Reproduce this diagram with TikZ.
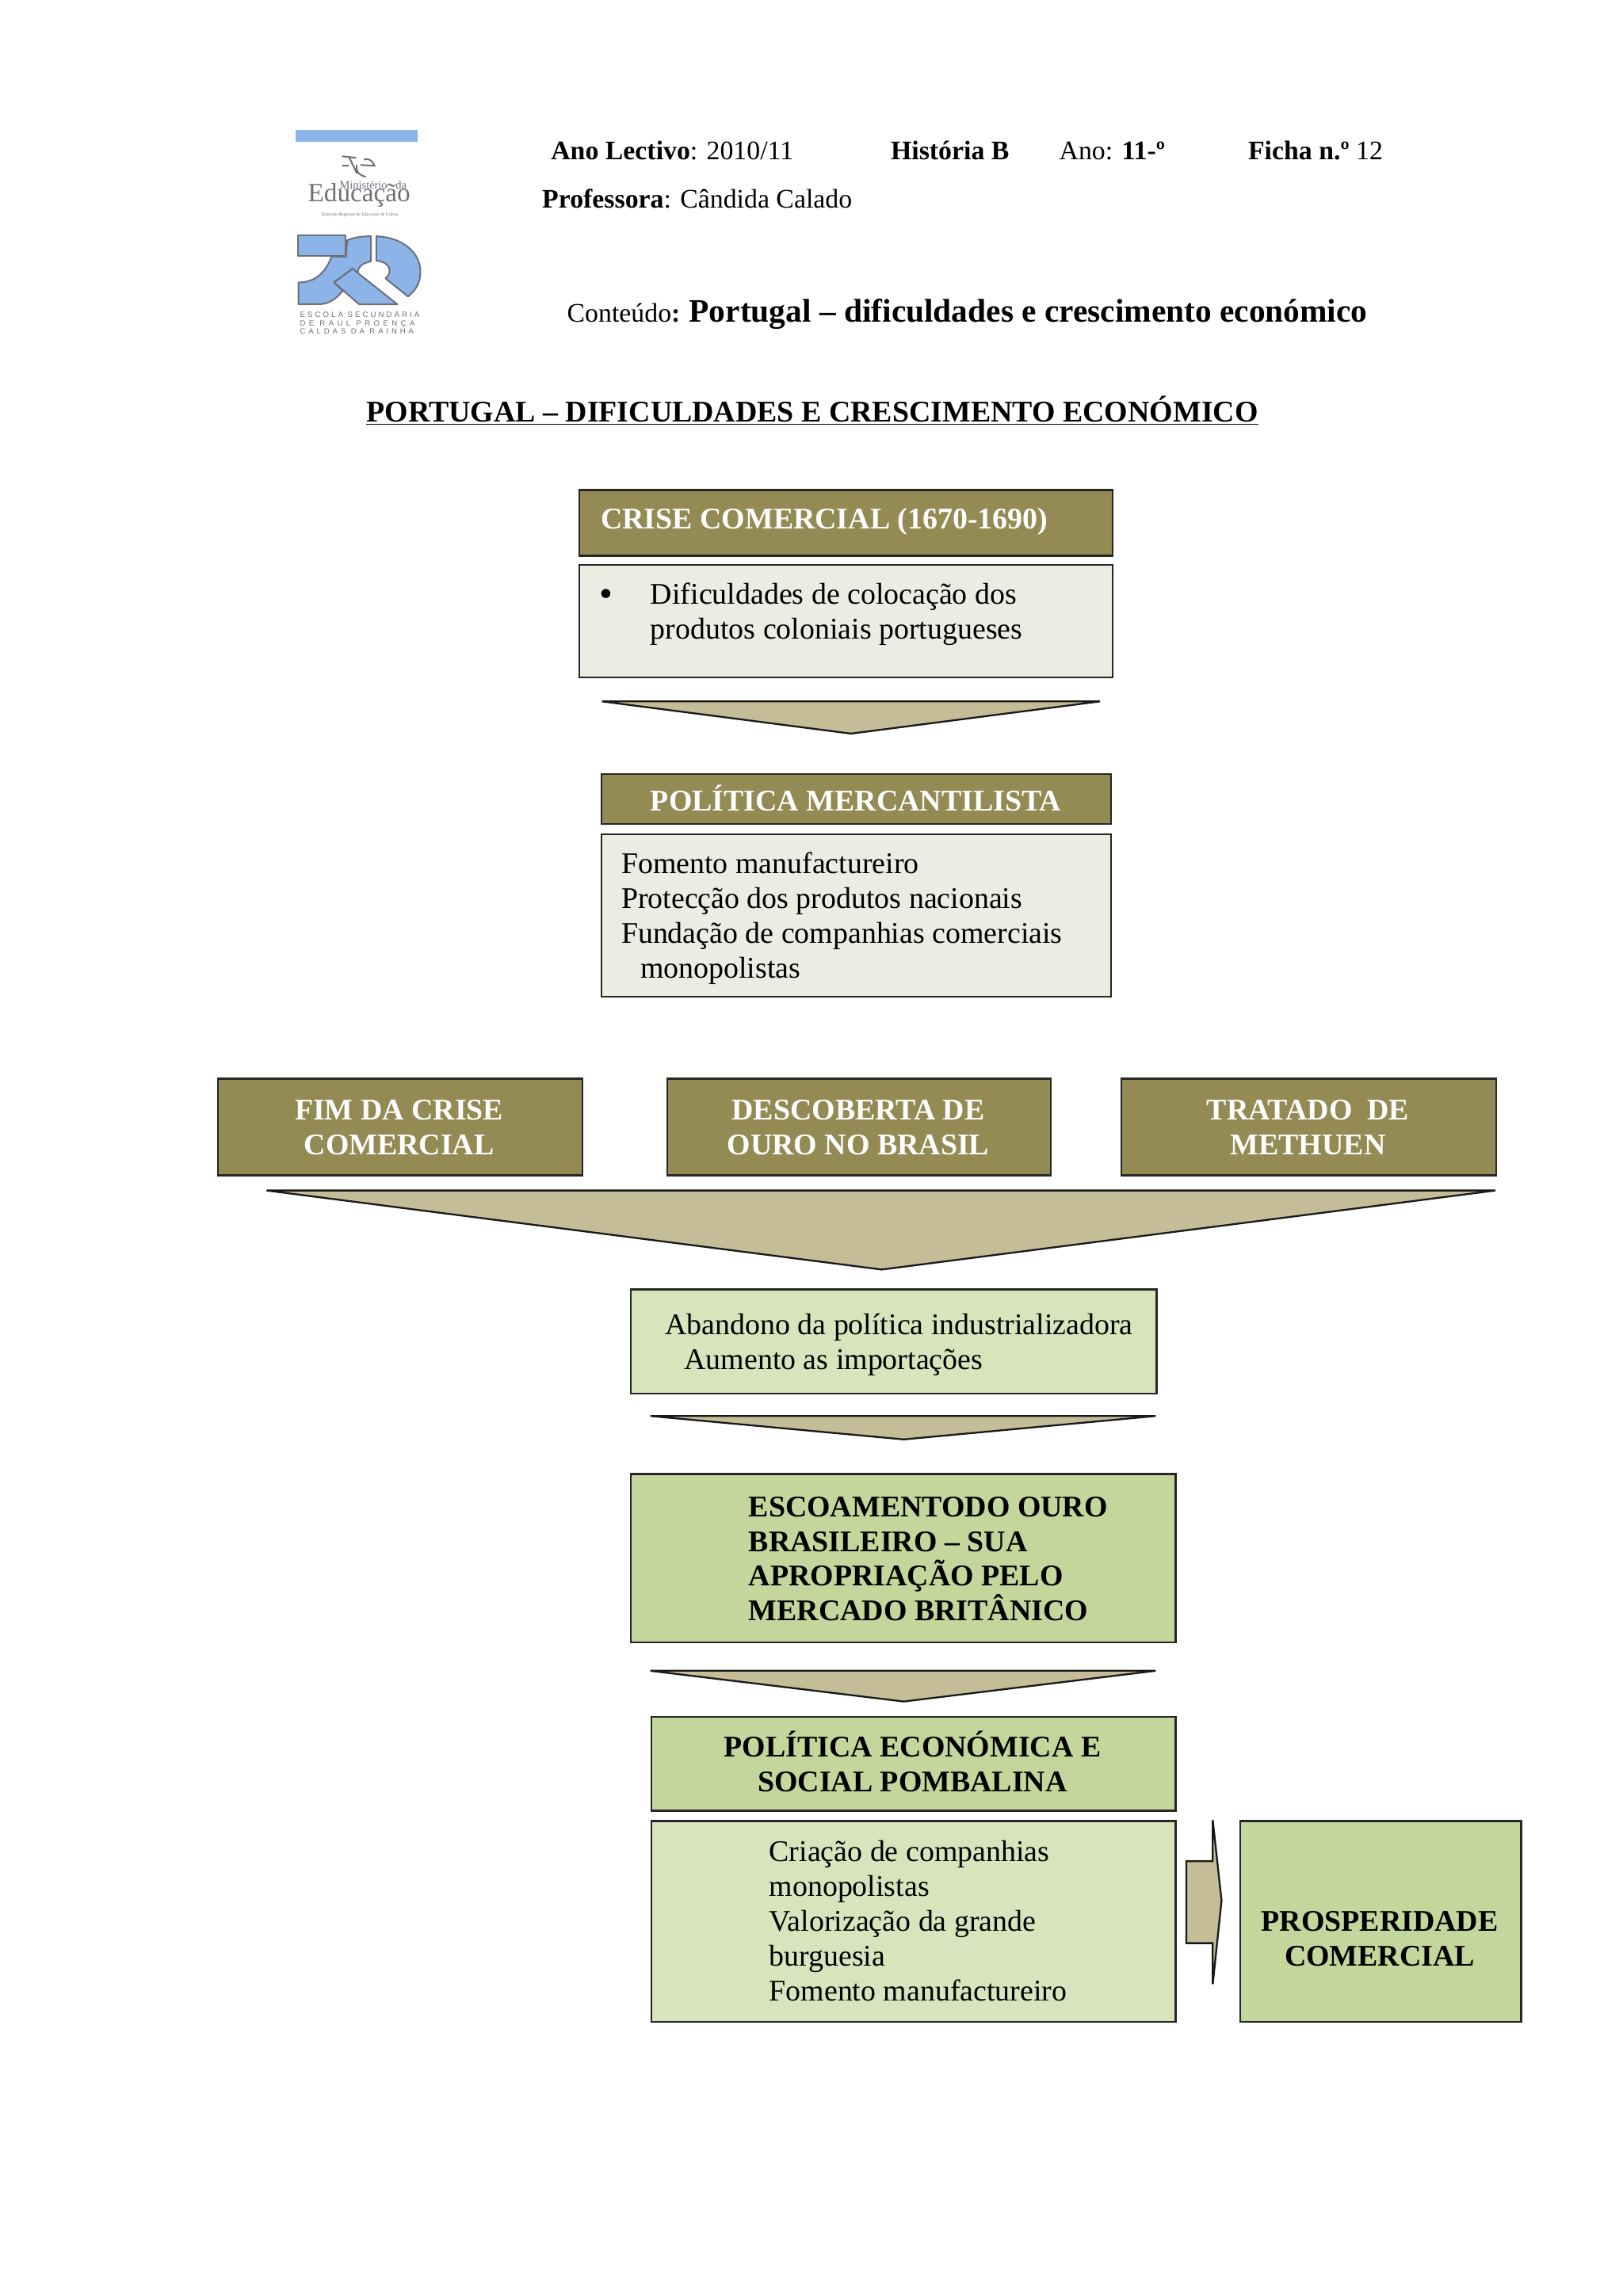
\documentclass[tikz,border=0pt]{standalone}
\usepackage{fontspec}
\setmainfont{Liberation Serif}
\newfontfamily\logosansa[LetterSpace=32]{Liberation Sans}
\newfontfamily\logosansb[LetterSpace=46]{Liberation Sans}
\newfontfamily\logosansc[LetterSpace=40]{Liberation Sans}
\definecolor{hdr}{HTML}{938A54}
\definecolor{pale}{HTML}{ECECE2}
\definecolor{tan}{HTML}{C4BD97}
\definecolor{grn}{HTML}{C3D69B}
\definecolor{lgrn}{HTML}{D7E4BC}
\definecolor{logob}{HTML}{8DB4E8}
\definecolor{logog}{HTML}{6E7078}
\tikzset{
 box/.style={draw=black!85,line width=1.25pt,anchor=north west,inner sep=0pt},
 hdrbox/.style={box,fill=hdr},
 palebox/.style={box,fill=pale},
 grnbox/.style={box,fill=grn},
 lgrnbox/.style={box,fill=lgrn},
 txt/.style={inner sep=0pt,anchor=north west,align=left,font=\fontsize{20.5}{23.7}\selectfont,execute at begin node={\rule{0pt}{16pt}}},
 ctxt/.style={txt,anchor=north,align=center},
 bld/.style={font=\fontsize{20.5}{23.7}\selectfont\bfseries},
 wht/.style={text=white},
 hd/.style={inner sep=0pt,anchor=base west,font=\fontsize{18.3}{20}\selectfont},
 tri/.style={draw=black!90,fill=tan,line width=1.25pt,line join=miter},
 logop/.style={fill=logob,draw=logog,line width=1.1pt,line join=round},
 logot/.style={inner sep=0pt,text=logog},
}
\begin{document}
\begin{tikzpicture}[x=1pt,y=-1pt]
\useasboundingbox (0,0) rectangle (1108,1568);
% logo, in units of the enlarged crop
\begin{scope}[shift={(183.9,75.7)},x=0.1803pt,y=-0.1803pt]
 \fill[logob] (100,72) rectangle (562,118);
 \draw[logop] (108,472) rectangle (288,550);
 \draw[logop] (385,475) -- (385,570) .. controls (350,578) and (335,590) .. (335,615) -- (315,598) -- (245,650) -- (278,682) .. controls (250,715) and (225,730) .. (195,732) -- (110,732) -- (110,650) .. controls (175,650) and (215,610) .. (235,552) -- (290,552) -- (295,490) .. controls (325,478) and (355,475) .. (385,475) -- cycle;
 \draw[logop] (245,650) -- (315,598) -- (485,733) -- (340,733) -- cycle;
 \draw[logop] (405,475) .. controls (510,480) and (572,540) .. (572,610) .. controls (572,650) and (555,680) .. (525,703) -- (440,635) .. controls (470,610) and (455,570) .. (405,568) -- cycle;
 \draw[logog,line width=1.1pt] (275,172) -- (302,175) -- (332,238) (302,175) -- (328,178) (275,208) -- (300,208) (345,205) -- (398,208) .. controls (390,185) and (370,178) .. (358,185) (330,205) .. controls (328,235) and (345,245) .. (365,250);
 \node[logot,anchor=base,font=\fontsize{7.8}{8}\selectfont] (mined) at (393,296) {Ministério ~ da};
 \node[logot,anchor=base,font=\fontsize{18}{18}\selectfont] (educ) at (340,345) {Educação};
 \node[logot,anchor=base,font=\fontsize{3.1}{4}\selectfont] (drel) at (342,398) {Direcção Regional de Educação de Lisboa};
 \node[logot,anchor=base west,font=\logosansa\fontsize{5.2}{6}\selectfont] (esc1) at (115,782) {ESCOLA SECUNDÁRIA};
 \node[logot,anchor=base west,font=\logosansb\fontsize{5.2}{6}\selectfont] (esc2) at (115,814) {DE RAUL PROENÇA};
 \node[logot,anchor=base west,font=\logosansc\fontsize{5.2}{6}\selectfont] (esc3) at (115,846) {CALDAS DA RAINHA};
\end{scope}
% page header
\node[hd] (h1) at (376,109) {\textbf{Ano Lectivo}: 2010/11};
\node[hd] (h2) at (608,109) {\textbf{História B}};
\node[hd] (h3) at (723,109) {Ano: \textbf{11-º}};
\node[hd] (h4) at (852,109) {\textbf{Ficha n.º} 12};
\node[hd] (h5) at (370,142) {\textbf{Professora}: Cândida Calado};
\node[hd] (h6) at (387,220) {Conteúdo\textbf{: {\fontsize{22.4}{24}\selectfont Portugal – dificuldades e crescimento económico}}};
\node[hd,font=\fontsize{20.5}{24}\selectfont\bfseries] (title) at (250,288) {\underline{PORTUGAL – DIFICULDADES E CRESCIMENTO ECONÓMICO}};
% boxes
\node[hdrbox,minimum width=364pt,minimum height=45pt] (crise) at (395,334) {};
\node[palebox,minimum width=364pt,minimum height=77pt] (criseb) at (395,385) {};
\coordinate (t1a) at (411,479); \coordinate (t1b) at (751,479); \coordinate (t1c) at (581,501);
\draw[tri] (t1a) -- (t1b) -- (t1c) -- cycle;
\node[hdrbox,minimum width=348pt,minimum height=34pt] (pol) at (410,528) {};
\node[palebox,minimum width=348pt,minimum height=111pt] (polb) at (410,569) {};
\node[hdrbox,minimum width=249pt,minimum height=66pt] (fim) at (148,736) {};
\node[hdrbox,minimum width=262pt,minimum height=66pt] (desc) at (455,736) {};
\node[hdrbox,minimum width=256pt,minimum height=66pt] (trat) at (765,736) {};
\coordinate (t2a) at (182,813); \coordinate (t2b) at (1021,813); \coordinate (t2c) at (602,867);
\draw[tri] (t2a) -- (t2b) -- (t2c) -- cycle;
\node[lgrnbox,minimum width=359pt,minimum height=71pt] (aband) at (430,880) {};
\coordinate (t3a) at (444,967); \coordinate (t3b) at (789,967); \coordinate (t3c) at (617,983);
\draw[tri] (t3a) -- (t3b) -- (t3c) -- cycle;
\node[grnbox,minimum width=372pt,minimum height=115pt] (esco) at (430,1006) {};
\coordinate (t4a) at (444,1141); \coordinate (t4b) at (789,1141); \coordinate (t4c) at (617,1162);
\draw[tri] (t4a) -- (t4b) -- (t4c) -- cycle;
\node[grnbox,minimum width=358pt,minimum height=64pt] (pomb) at (444,1172) {};
\node[lgrnbox,minimum width=358pt,minimum height=137pt] (pombb) at (444,1243) {};
\node[grnbox,minimum width=192pt,minimum height=137pt] (pros) at (846,1243) {};
\coordinate (a1) at (810,1271); \coordinate (a2) at (828,1271); \coordinate (a3) at (828,1243);
\coordinate (a4) at (834,1298); \coordinate (a5) at (828,1355); \coordinate (a6) at (828,1327); \coordinate (a7) at (810,1327);
\draw[tri] (a1) -- (a2) -- (a3) -- (a4) -- (a5) -- (a6) -- (a7) -- cycle;
% texts
\node[txt,bld,wht] (tcrise) at (410,345) {CRISE COMERCIAL (1670-1690)};
\node[txt,font=\fontsize{26}{23.7}\selectfont] (tbul) at (409,398) {•};
\node[txt] (tdif) at (444,398) {Dificuldades de colocação dos\\produtos coloniais portugueses};
\node[txt,bld,wht] (tpol) at (444,536) {POLÍTICA MERCANTILISTA};
\node[txt] (tfom) at (424,582) {Fomento manufactureiro\\Protecção dos produtos nacionais\\Fundação de companhias comerciais\\\hspace*{13pt}monopolistas};
\node[ctxt,bld,wht] (tfim) at (272.5,751) {FIM DA CRISE\\COMERCIAL};
\node[ctxt,bld,wht] (tdesc) at (586,751) {DESCOBERTA DE\\OURO NO BRASIL};
\node[ctxt,bld,wht] (ttrat) at (893,751) {TRATADO\ \ DE\\METHUEN};
\node[txt] (taband) at (454,897) {Abandono da política industrializadora\\\hspace*{13pt}Aumento as importações};
\node[txt,bld] (tesco) at (511,1022) {ESCOAMENTODO OURO\\BRASILEIRO – SUA\\APROPRIAÇÃO PELO\\MERCADO BRITÂNICO};
\node[ctxt,bld] (tpomb) at (623,1182) {POLÍTICA ECONÓMICA E\\SOCIAL POMBALINA};
\node[txt] (tcria) at (525,1257) {Criação de companhias\\monopolistas\\Valorização da grande\\burguesia\\Fomento manufactureiro};
\node[ctxt,bld] (tpros) at (942,1305) {PROSPERIDADE\\COMERCIAL};
\end{tikzpicture}
\end{document}
